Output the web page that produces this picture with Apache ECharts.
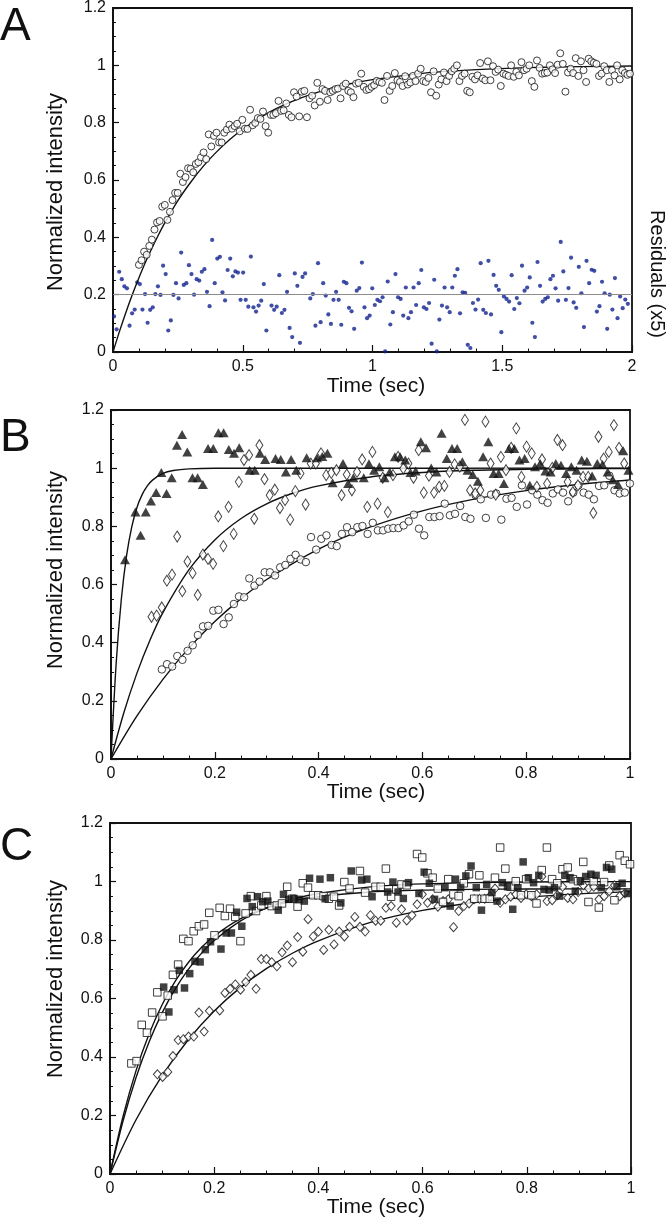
<!DOCTYPE html>
<html><head><meta charset="utf-8">
<script src="https://cdn.jsdelivr.net/npm/echarts@6/dist/echarts.min.js"></script>
<style>html,body{margin:0;padding:0;background:#fff}#c{width:666px;height:1219px}</style>
</head><body><div id="c"></div>
<script>
// ---------------- Panel A ----------------
const circlesA_t0 = 0.10, circlesA_dt = 0.00996;
const circlesA = [0.304,0.320,0.350,0.339,0.370,0.392,0.427,0.452,0.457,0.507,
0.513,0.461,0.489,0.530,0.555,0.555,0.622,0.593,0.610,0.641,
0.639,0.627,0.656,0.662,0.679,0.696,0.673,0.759,0.717,0.754,
0.765,0.731,0.731,0.765,0.776,0.793,0.779,0.788,0.796,0.770,
0.810,0.779,0.778,0.845,0.791,0.799,0.816,0.813,0.839,0.788,
0.765,0.827,0.827,0.833,0.876,0.841,0.843,0.867,0.827,0.819,
0.906,0.891,0.822,0.908,0.911,0.819,0.885,0.894,0.860,0.939,
0.873,0.917,0.911,0.879,0.906,0.911,0.917,0.919,0.885,0.928,
0.936,0.911,0.906,0.889,0.936,0.939,0.971,0.925,0.914,0.917,
0.925,0.931,0.946,0.942,0.939,0.879,0.963,0.911,0.928,0.973,
0.948,0.942,0.928,0.962,0.933,0.940,0.963,0.945,0.971,0.988,
0.945,0.942,0.956,0.906,0.979,0.894,0.933,0.951,0.975,0.945,
0.963,0.979,0.988,1.000,0.945,0.963,0.971,0.911,0.906,0.960,
0.951,0.965,1.008,0.954,0.948,1.014,0.948,0.997,0.977,0.985,
0.928,0.971,0.967,0.963,1.000,0.960,0.977,0.965,1.011,0.983,
0.988,1.000,0.945,0.925,1.017,0.991,0.971,0.973,0.975,1.000,
0.986,0.973,1.002,1.042,1.005,0.908,0.975,0.988,0.973,1.025,
0.963,1.014,0.983,0.942,1.023,1.014,1.009,1.005,0.963,0.971,
0.997,0.983,0.942,0.983,0.965,1.000,0.951,0.983,0.973,0.967,0.971];
const residA_t0 = 0.004, residA_dt = 0.00995;
const residualsA = [0.124,0.079,0.280,0.254,0.229,0.222,0.092,0.135,0.148,0.243,
0.237,0.148,0.202,0.102,0.147,0.156,0.202,0.229,0.199,0.301,
0.272,0.075,0.110,0.199,0.240,0.187,0.347,0.234,0.240,0.303,
0.272,0.200,0.254,0.249,0.280,0.289,0.210,0.160,0.391,0.240,
0.326,0.332,0.208,0.180,0.286,0.326,0.264,0.281,0.277,0.182,
0.277,0.182,0.158,0.333,0.156,0.141,0.162,0.179,0.237,0.075,
null,0.162,0.147,0.158,0.268,0.136,0.147,0.210,0.084,0.052,
0.274,0.231,0.032,0.262,0.274,null,0.187,0.202,0.092,0.310,
0.104,0.240,0.197,0.131,0.098,0.182,0.210,0.182,0.095,0.245,
0.240,0.154,0.142,0.081,0.214,0.223,0.312,0.156,0.118,0.127,
0.222,0.164,0.182,0.177,0.191,0.002,0.246,0.096,0.139,0.272,
0.191,0.185,0.127,0.225,0.118,0.139,0.225,0.164,0.240,0.286,
0.156,0.150,0.171,0.029,0.252,0.002,0.113,0.162,0.225,0.156,
0.139,0.225,0.266,0.289,0.135,0.208,0.206,0.025,0.014,0.171,
0.148,0.183,0.310,0.147,0.136,0.318,0.131,0.269,0.231,0.217,
0.069,0.194,0.185,0.176,0.268,0.150,0.188,0.170,0.301,0.214,
0.225,0.260,0.102,0.052,0.314,0.231,0.176,0.185,0.191,0.254,
0.266,0.222,0.179,0.384,0.281,0.182,0.223,0.329,0.173,0.154,
0.297,0.205,0.087,0.318,0.240,0.287,0.283,0.141,0.160,0.245,
0.205,0.081,0.200,0.148,0.258,0.118,0.194,0.153,0.183,0.168];
const residualZeroA = 0.2;
const fitA_t = [0,0.025,0.05,0.075,0.1,0.125,0.15,0.175,0.2,0.25,0.3,0.35,0.4,0.45,0.5,0.6,0.7,0.8,0.9,1.0,1.2,1.4,1.6,1.8,2.0];
const fitA_v = [0,0.072,0.139,0.2015,0.259,0.313,0.362,0.408,0.451,0.528,0.593,0.650,0.699,0.741,0.777,0.835,0.8775,0.909,0.933,0.950,0.973,0.985,0.992,0.9955,0.9975];

// ---------------- Panel B ----------------
const triB_t0 = 0.027, triB_dt = 0.01;
const trianglesB = [0.685,null,0.849,0.769,0.849,0.887,0.916,0.985,0.913,0.967,
1.079,1.116,1.056,0.967,0.967,0.944,1.068,1.068,1.122,1.122,
1.064,1.051,1.070,null,0.993,0.993,1.051,1.030,null,1.033,
1.030,0.987,1.030,0.993,null,1.036,null,1.036,1.040,1.051,
0.950,null,1.016,0.947,0.967,null,0.967,1.015,0.993,1.005,
0.967,0.987,1.039,1.039,1.028,0.985,0.990,1.091,1.070,1.001,
0.987,1.120,1.033,1.068,1.068,1.022,0.993,0.978,0.955,1.039,
1.091,0.982,0.982,0.947,1.068,1.068,1.028,1.033,0.941,1.005,
1.016,0.990,0.987,1.016,1.010,0.982,1.005,0.993,1.028,1.024,
0.973,1.016,1.013,0.987,0.960,0.944,1.060,0.993];
const diaB_t0 = 0.078, diaB_dt = 0.0099;
const diamondsB = [0.489,0.493,0.521,0.613,0.634,0.765,0.577,0.679,0.639,0.564,
0.703,0.688,0.671,0.834,0.732,0.867,0.774,0.953,1.028,1.045,
0.826,1.079,0.962,0.907,0.926,0.863,0.890,0.823,0.921,0.982,
0.875,1.016,1.016,1.051,0.976,0.984,0.993,0.907,0.978,0.924,
0.987,1.030,0.867,1.056,0.878,0.967,0.849,0.976,1.039,0.999,
1.016,0.967,1.062,0.916,0.974,0.916,0.936,0.939,0.987,1.013,
1.005,1.166,0.924,0.913,0.924,1.160,1.016,0.909,1.039,0.993,
1.070,1.137,0.970,1.074,1.051,0.936,1.030,0.947,1.001,1.097,
1.079,0.953,0.918,0.941,0.970,0.970,0.846,1.108,1.033,1.056,
1.148,1.070,1.016];
const cirB_t0 = 0.098, cirB_dt = 0.00991;
const circlesB = [0.308,0.326,0.318,0.354,0.341,0.372,0.391,0.426,0.456,0.458,
0.510,0.513,0.464,0.487,0.533,0.559,0.556,0.621,0.596,0.610,
0.642,0.642,0.631,0.659,0.667,0.688,0.702,0.686,0.677,0.763,
0.720,0.757,0.769,0.736,0.732,0.774,0.797,0.780,0.797,0.801,
0.774,0.812,0.786,0.786,0.792,0.794,0.794,0.803,0.817,0.840,
0.792,0.769,0.832,0.832,0.835,0.878,0.838,0.843,0.870,0.832,
0.826,0.907,0.893,0.829,0.909,0.913,0.823,0.895,0.898,0.867,
0.941,0.875,0.924,0.909,0.890,0.881,0.913,0.927,0.916,0.886,
0.916,0.941,0.916,0.909,0.893,0.939,0.941,0.974,0.924,0.913,
0.916,0.947];
const fitB1_t = [0,0.01,0.02,0.03,0.04,0.05,0.06,0.07,0.08,0.1,0.12,0.15,0.2,1.0];
const fitB1_v = [0,0.330,0.551,0.699,0.798,0.865,0.909,0.939,0.959,0.982,0.992,0.9975,0.9997,1.0];
const fitB2_t = [0,0.025,0.05,0.075,0.1,0.15,0.2,0.25,0.3,0.35,0.4,0.5,0.6,0.7,0.8,0.9,1.0];
const fitB2_v = [0,0.1605,0.2953,0.4084,0.5034,0.6501,0.7534,0.8262,0.8775,0.9137,0.9392,0.9698,0.9850,0.9926,0.9963,0.9982,0.9991];
const fitB3_t = [0,0.05,0.1,0.15,0.2,0.25,0.3,0.4,0.5,0.6,0.7,0.8,0.9,1.0];
const fitB3_v = [0,0.1479,0.2739,0.3812,0.4727,0.5507,0.6171,0.7220,0.7981,0.8534,0.8935,0.9227,0.9439,0.9592];

// ---------------- Panel C ----------------
const fsqC_t0 = 0.103, fsqC_dt = 0.01;
const filledSquaresC = [0.639,0.554,0.630,0.696,0.636,0.685,0.727,0.725,0.767,0.794,
null,0.769,0.824,0.824,0.895,0.847,0.942,0.914,0.948,0.931,
0.933,null,0.902,0.956,0.939,0.942,0.939,0.933,1.011,null,
1.008,0.941,1.013,null,0.927,null,1.036,null,1.005,1.008,
0.948,null,null,0.964,0.998,0.964,0.942,0.996,null,0.959,
1.032,0.994,0.939,null,0.979,0.916,1.008,0.979,1.019,1.053,
0.979,0.902,0.990,0.962,0.933,0.996,0.982,0.905,0.979,1.067,
1.013,0.996,1.021,0.973,0.971,0.979,0.950,1.021,1.013,0.967,
1.001,1.017,1.025,1.021,0.979,1.048,1.042,0.982,0.994,0.959];
const osqC_t0 = 0.041, osqC_dt = 0.00997;
const openSquaresC = [0.378,0.386,0.510,0.483,0.552,0.621,0.539,0.610,0.681,0.716,
0.804,0.796,0.830,0.847,0.853,0.893,0.816,0.910,0.882,0.907,
0.879,0.796,0.891,0.950,0.899,0.918,0.950,0.916,0.918,0.925,
0.982,0.941,0.914,0.994,0.979,0.953,0.953,0.950,0.941,0.948,
0.918,0.998,0.976,null,1.036,0.962,null,0.982,0.982,1.044,
0.948,0.973,0.990,0.987,null,1.094,1.082,1.028,1.013,0.976,
0.930,1.008,0.956,0.950,0.994,1.025,0.941,1.021,0.941,0.941,
1.013,1.116,1.044,0.982,1.001,0.953,1.008,0.953,0.925,1.039,
1.116,1.008,0.994,1.042,1.048,1.008,1.001,1.067,0.930,1.001,
0.911,0.998,1.055,0.936,1.090,1.071,1.059];
const diaC_t0 = 0.091, diaC_dt = 0.00997;
const diamondsC = [0.341,0.332,0.349,0.403,0.458,0.461,0.470,0.470,0.552,0.487,
0.558,null,0.559,0.619,0.633,0.648,0.630,0.656,0.681,0.633,
0.735,0.735,0.724,0.710,0.758,0.781,0.724,0.810,0.760,0.871,
0.812,0.829,0.766,0.835,0.785,0.829,0.812,0.845,0.879,0.845,
0.829,0.885,0.866,0.866,0.910,0.916,0.859,0.905,0.867,0.885,
0.922,0.956,0.927,0.939,0.914,0.933,0.939,0.844,0.899,0.916,
0.925,0.939,0.941,0.941,0.950,0.976,0.927,0.939,0.948,0.956,
0.944,0.956,0.950,0.956,1.017,0.933,0.936,0.953,0.982,0.944,
0.939,0.964,0.987,0.976,0.982,0.939,0.950,0.967,0.987,0.950,0.960];
const fitC1_t = [0,0.025,0.05,0.075,0.1,0.125,0.15,0.175,0.2,0.25,0.3,0.35,0.4,0.5,0.6,0.7,0.8,1.0];
const fitC1_v = [0,0.1813,0.3297,0.4512,0.5507,0.6321,0.6988,0.7534,0.7981,0.8647,0.9093,0.9392,0.9592,0.9817,0.9918,0.9963,0.9983,0.9997];
const fitC2_t = [0,0.025,0.05,0.075,0.1,0.125,0.15,0.175,0.2,0.25,0.3,0.35,0.4,0.5,0.6,0.7,0.8,1.0];
const fitC2_v = [0,0.1965,0.3534,0.4785,0.5786,0.6584,0.7223,0.7732,0.8138,0.8722,0.9095,0.9332,0.9484,0.9642,0.9706,0.9732,0.9743,0.9749];
const fitC3_t = [0,0.05,0.1,0.15,0.2,0.25,0.3,0.35,0.4,0.5,0.6,0.7,0.8,0.9,1.0];
const fitC3_v = [0,0.1856,0.3361,0.4581,0.5569,0.6371,0.7020,0.7547,0.7973,0.8600,0.9011,0.9282,0.9460,0.9577,0.9653];

// ---------------- build ----------------
const FONT = '"Liberation Sans", Arial, Helvetica, sans-serif';
const INK = '#111';
function pts(t0, dt, vals){ const out=[]; vals.forEach((v,i)=>{ if(v!==null) out.push([t0+i*dt, v]); }); return out; }
function pairs(ts, vs){ return ts.map((t,i)=>[t, vs[i]]); }

const grids = [
  {left:113, top:7, width:519, height:345},
  {left:111, top:410, width:519, height:349},
  {left:110, top:823, width:521, height:351}
].map(g=>Object.assign({show:true, borderColor:INK, borderWidth:1.8, backgroundColor:'transparent'}, g));

function yAx(gi){ return {type:'value', gridIndex:gi, min:0, max:1.2, interval:0.2,
  axisLine:{show:true, onZero:false, lineStyle:{color:INK, width:1.8}},
  axisTick:{show:true, inside:true, length:6, lineStyle:{color:INK, width:1.2}},
  minorTick:{show:true, splitNumber:4, length:3, lineStyle:{color:INK, width:1}},
  splitLine:{show:false},
  axisLabel:{fontSize:16, color:INK, fontFamily:FONT, margin:7}}; }
function xAx(gi, max, interval, minorSplit){ return {type:'value', gridIndex:gi, min:0, max:max, interval:interval,
  axisLine:{show:true, onZero:false, lineStyle:{color:INK, width:1.8}},
  axisTick:{show:true, inside:true, length:7, lineStyle:{color:INK, width:1.2}},
  minorTick:{show:true, splitNumber:minorSplit, length:3.5, lineStyle:{color:INK, width:1}},
  splitLine:{show:false},
  axisLabel:{fontSize:16, color:INK, fontFamily:FONT, margin:7}}; }

function fitLine(gi, data){ return {type:'line', xAxisIndex:gi, yAxisIndex:gi, data:data, smooth:0.3, symbol:'none',
  lineStyle:{color:INK, width:1.4}, z:3, silent:true, clip:true}; }
function scat(gi, data, symbol, size, filled, z){ return {type:'scatter', xAxisIndex:gi, yAxisIndex:gi, data:data,
  symbol:symbol, symbolSize:size, z:z||4, silent:true,
  itemStyle: filled ? {color:INK, borderWidth:0} : {color:'#fff', borderColor:INK, borderWidth:1}}; }

function txt(x, y, text, size, rot){ return {type:'text', x:x, y:y, rotation:rot||0, silent:true,
  style:{text:text, font: size+'px '+FONT, fill:INK, align:'center', verticalAlign:'middle'}}; }

const option = {
  animation:false,
  backgroundColor:'#fff',
  grid: grids,
  xAxis:[xAx(0,2,0.5,5), xAx(1,1,0.2,4), xAx(2,1,0.2,4)],
  yAxis:[yAx(0), yAx(1), yAx(2)],
  series:[
    {type:'scatter', xAxisIndex:0, yAxisIndex:0, data:pts(residA_t0, residA_dt, residualsA), symbol:'circle', symbolSize:4.2,
      itemStyle:{color:'#10238f'}, z:2, silent:true,
      markLine:{silent:true, symbol:'none', label:{show:false}, lineStyle:{color:'#8c8c8c', width:1, type:'solid'}, data:[{yAxis:residualZeroA}]}},
    fitLine(0, pairs(fitA_t, fitA_v)),
    scat(0, pts(circlesA_t0, circlesA_dt, circlesA), 'circle', 7, false),

    fitLine(1, pairs(fitB1_t, fitB1_v)),
    fitLine(1, pairs(fitB2_t, fitB2_v)),
    fitLine(1, pairs(fitB3_t, fitB3_v)),
    scat(1, pts(cirB_t0, cirB_dt, circlesB), 'circle', 7.5, false),
    scat(1, pts(diaB_t0, diaB_dt, diamondsB), 'diamond', [7,11], false),
    scat(1, pts(triB_t0, triB_dt, trianglesB), 'triangle', [10,9], true),

    fitLine(2, pairs(fitC1_t, fitC1_v)),
    fitLine(2, pairs(fitC2_t, fitC2_v)),
    fitLine(2, pairs(fitC3_t, fitC3_v)),
    scat(2, pts(diaC_t0, diaC_dt, diamondsC), 'diamond', [8,9], false),
    scat(2, pts(osqC_t0, osqC_dt, openSquaresC), 'rect', 7.5, false),
    scat(2, pts(fsqC_t0, fsqC_dt, filledSquaresC), 'rect', 7.5, true)
  ],
  graphic:[
    {type:'text', x:0, y:27, silent:true, style:{text:'A', font:'46px '+FONT, fill:INK, align:'left', verticalAlign:'middle'}},
    {type:'text', x:0, y:438, silent:true, style:{text:'B', font:'46px '+FONT, fill:INK, align:'left', verticalAlign:'middle'}},
    {type:'text', x:0, y:847, silent:true, style:{text:'C', font:'46px '+FONT, fill:INK, align:'left', verticalAlign:'middle'}},
    txt(56, 192, 'Normalized intensity', 22, Math.PI/2),
    txt(56, 570, 'Normalized intensity', 22, Math.PI/2),
    txt(56, 979, 'Normalized intensity', 22, Math.PI/2),
    txt(376, 386, 'Time (sec)', 21, 0),
    txt(376, 792, 'Time (sec)', 21, 0),
    txt(376, 1207, 'Time (sec)', 21, 0),
    txt(657, 274, 'Residuals (x5)', 20, -Math.PI/2)
  ]
};
const chart = echarts.init(document.getElementById('c'), null, {renderer:'canvas', width:666, height:1219});
chart.setOption(option);
</script>
</body></html>
